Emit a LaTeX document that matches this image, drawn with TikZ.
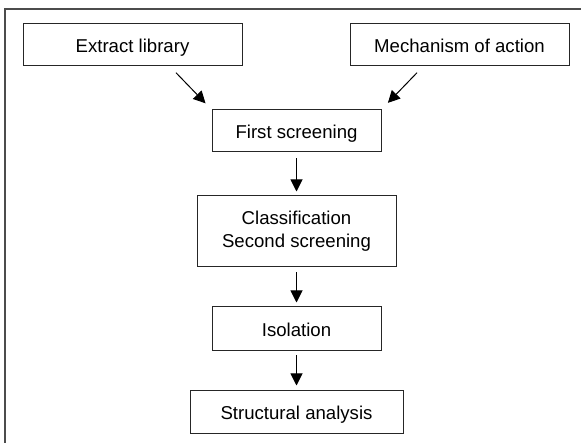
\documentclass[tikz,border=0pt]{standalone}
\usepackage{fontspec}
\setmainfont{Liberation Sans}
\usepackage{xcolor}
\usepackage{tikz}
\usetikzlibrary{arrows.meta,calc}

\begin{document}
\begin{tikzpicture}[x=1pt,y=-1pt,
    font=\fontsize{18.6}{22.7}\selectfont,
    box/.style={draw=black!85,line width=1pt,inner sep=0pt,align=center,minimum height=42pt},
    oneline/.style={box,text height=16pt,text depth=0pt},
    arr/.style={draw=black,line width=1pt,-{Triangle[length=12pt,width=12pt]}}]
    \useasboundingbox (0,0) rectangle (581,443);
    \draw[black!70,line width=2pt] (5,443) -- (5,9) -- (581,9);

    \node[oneline,minimum width=219pt] (lib) at (132.5,45) {Extract library};
    \node[oneline,minimum width=219pt] (mech) at (459.5,45) {Mechanism of action};
    \node[oneline,minimum width=169pt] (first) at (296.5,131) {First screening};
    \node[box,minimum width=199pt,minimum height=71pt] (classif) at (296.5,231.5) {Classification\\Second screening};
    \node[oneline,minimum width=169pt,minimum height=44pt] (iso) at (296.5,329) {Isolation};
    \node[oneline,minimum width=213pt] (struct) at (296.5,412) {Structural analysis};

    \draw[arr,shorten <=8.5pt,shorten >=8.6pt] ([xshift=37.5pt]lib.south) -- (first.north west);
    \draw[arr,shorten <=8.5pt,shorten >=9.2pt] ([xshift=-36.5pt]mech.south) -- (first.north east);
    \draw[arr,shorten <=6pt,shorten >=4pt] (first) -- (classif);
    \draw[arr,shorten <=5pt,shorten >=4pt] (classif) -- (iso);
    \draw[arr,shorten <=4pt,shorten >=5pt] (iso) -- (struct);
\end{tikzpicture}
\end{document}
